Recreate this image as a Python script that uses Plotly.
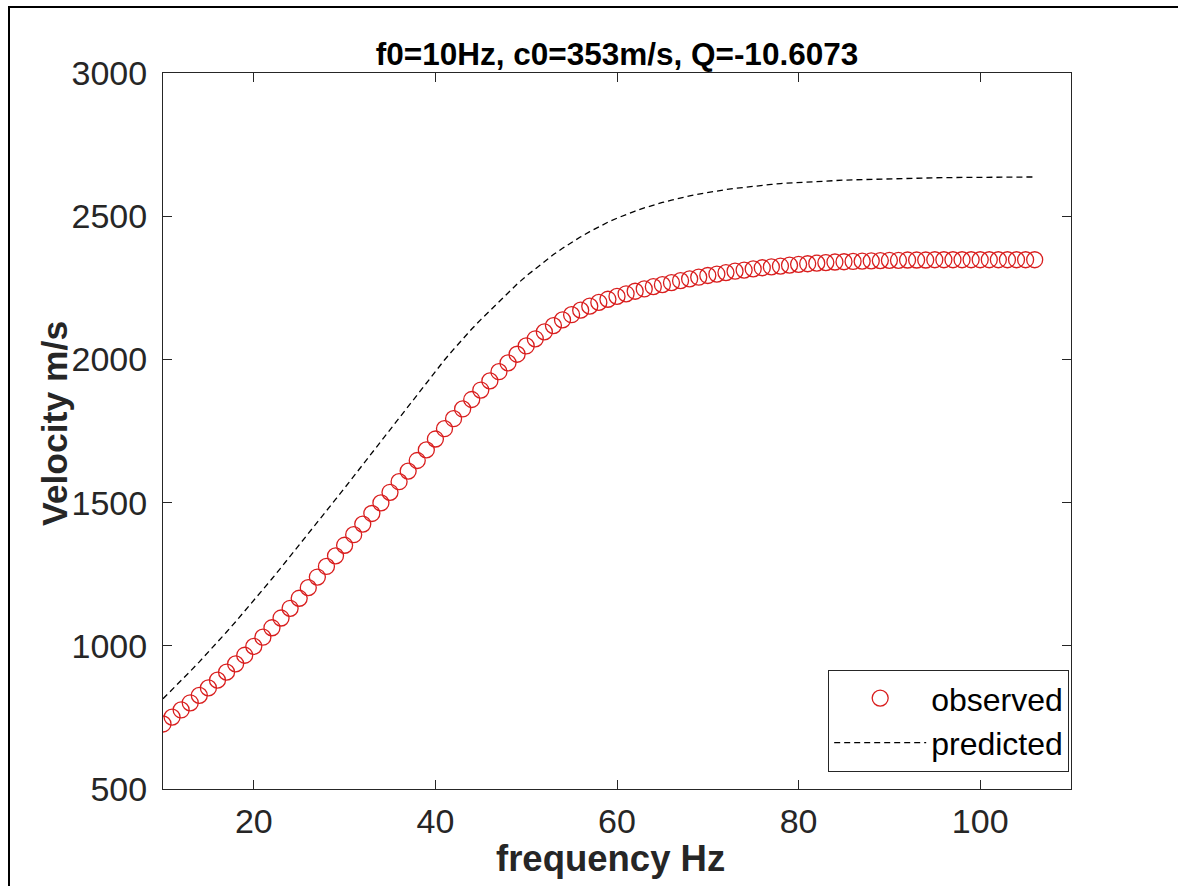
import plotly.graph_objects as go

# frequency samples (Hz)
freq = list(range(10, 107))

# observed phase velocity (m/s)
observed = [
    727, 751, 776, 801, 827, 853, 880, 908, 937, 967,
    998, 1030, 1063, 1097, 1131, 1166, 1203, 1240, 1277, 1314,
    1351, 1388, 1425, 1462, 1499, 1536, 1573, 1610, 1647, 1684,
    1722, 1758, 1793, 1827, 1860, 1893, 1925, 1957, 1988, 2018,
    2047, 2072, 2096, 2118, 2138, 2156, 2172, 2186, 2199, 2210,
    2220, 2229, 2238, 2246, 2254, 2261, 2268, 2275, 2281, 2287,
    2293, 2298, 2303, 2308, 2312, 2316, 2320, 2323, 2326, 2329,
    2332, 2334, 2336, 2338, 2340, 2341, 2342, 2343, 2344, 2345,
    2346, 2346, 2347, 2347, 2347, 2348, 2348, 2348, 2348, 2348,
    2348, 2348, 2348, 2348, 2348, 2348, 2348,
]

# predicted phase velocity (m/s)
predicted = [
    815, 846, 878, 911, 944, 978, 1013, 1048, 1084, 1121,
    1158, 1196, 1234, 1273, 1312, 1351, 1391, 1431, 1471, 1511,
    1551, 1592, 1633, 1674, 1715, 1756, 1797, 1838, 1879, 1920,
    1960, 1998, 2035, 2071, 2106, 2139, 2170, 2203, 2234, 2263,
    2291, 2317, 2342, 2366, 2388, 2409, 2428, 2446, 2463, 2479,
    2493, 2506, 2518, 2529, 2539, 2548, 2556, 2564, 2571, 2577,
    2583, 2588, 2593, 2597, 2601, 2605, 2608, 2611, 2614, 2616,
    2618, 2620, 2622, 2624, 2625, 2626, 2627, 2628, 2629, 2630,
    2631, 2632, 2633, 2633, 2634, 2634, 2635, 2635, 2635, 2636,
    2636, 2636, 2636, 2637, 2637, 2637, 2637,
]

x_ticks = [20, 40, 60, 80, 100]
y_ticks = [500, 1000, 1500, 2000, 2500, 3000]

title_text = "f0=10Hz, c0=353m/s, Q=-10.6073"
x_label = "frequency Hz"
y_label = "Velocity m/s"
FONT = "Liberation Sans, Arial, sans-serif"
AXIS_COLOR = "#262626"

fig = go.Figure()
fig.add_trace(go.Scatter(
    x=freq, y=observed, mode="markers", name="observed",
    marker=dict(symbol="circle-open", size=16, color="#d91e1e",
                line=dict(width=1.3, color="#d91e1e")),
))
fig.add_trace(go.Scatter(
    x=freq, y=predicted, mode="lines", name="predicted",
    line=dict(color="black", width=1.3, dash="6px,4px"),
))

axis_common = dict(
    showline=True, linecolor=AXIS_COLOR, linewidth=1, mirror="allticks",
    ticks="inside", ticklen=9, tickcolor=AXIS_COLOR, tickwidth=1,
    showgrid=False, zeroline=False,
    tickfont=dict(family=FONT, size=34, color=AXIS_COLOR),
)

fig.update_xaxes(range=[10, 110], tickvals=x_ticks, ticklabelstandoff=2,
                 **axis_common)
fig.update_yaxes(range=[500, 3000], tickvals=y_ticks, ticklabelstandoff=8,
                 **axis_common)

fig.update_layout(
    width=1178, height=886,
    margin=dict(l=163, r=107, t=73, b=97),
    paper_bgcolor="white", plot_bgcolor="white",
    title=dict(text="<b>" + title_text + "</b>", x=0.5, xref="paper",
               y=1 - 54 / 886, yanchor="middle", xanchor="center",
               font=dict(family=FONT, size=31.5, color="black")),
    legend=dict(x=0.998, y=0.024, xanchor="right", yanchor="bottom",
                bgcolor="white", bordercolor=AXIS_COLOR, borderwidth=1,
                itemwidth=92, font=dict(family=FONT, size=32, color="black")),
    annotations=[
        dict(text="<b>" + x_label + "</b>", xref="paper", yref="paper",
             x=(610 - 163) / 908, y=(789 - 858) / 716,
             xanchor="center", yanchor="middle", showarrow=False,
             font=dict(family=FONT, size=36.5, color=AXIS_COLOR)),
        dict(text="<b>" + y_label + "</b>", xref="paper", yref="paper",
             x=(55 - 163) / 908, y=(789 - 424) / 716, textangle=-90,
             xanchor="center", yanchor="middle", showarrow=False,
             font=dict(family=FONT, size=35.5, color=AXIS_COLOR)),
    ],
    shapes=[dict(type="rect", xref="paper", yref="paper",
                 x0=(9 - 163) / 908, x1=(1200 - 163) / 908,
                 y0=(789 - 900) / 716, y1=(789 - 7) / 716,
                 line=dict(color="black", width=2))],
)

fig.write_html("out.html")
